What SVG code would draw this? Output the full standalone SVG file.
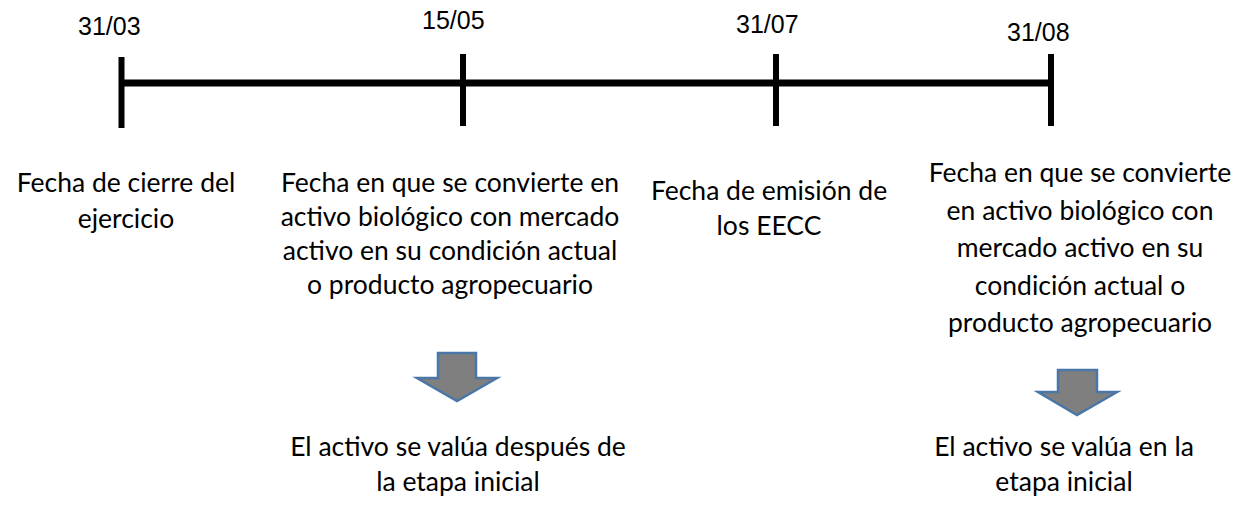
<svg xmlns="http://www.w3.org/2000/svg" width="1249" height="512" viewBox="0 0 1249 512">
<style>
.date{font-family:"Liberation Sans",Arial,sans-serif;font-size:25px;fill:#000}
.lbl{font-family:Lato,"Open Sans",sans-serif;font-size:26.5px;fill:#000;text-anchor:middle}
.tl{stroke:#000;fill:none}
.arr{fill:#7f7f7f;stroke:#4a76a8;stroke-width:2.5;stroke-linejoin:miter}
</style>
<defs>
<clipPath id="clip4"><rect x="900" y="150" width="349" height="190"/></clipPath>
</defs>
<rect width="1249" height="512" fill="#fff"/>
<g id="connectors">
<line class="tl" x1="121" y1="83" x2="1051" y2="83" stroke-width="7"/>
</g>
<g id="tick-3103">
<line class="tl" x1="121.5" y1="57" x2="121.5" y2="128" stroke-width="6"/>
<text class="date" x="78" y="35">31/03</text>
</g>
<g id="tick-1505">
<line class="tl" x1="463" y1="54" x2="463" y2="126" stroke-width="6"/>
<text class="date" x="422" y="29">15/05</text>
</g>
<g id="tick-3107">
<line class="tl" x1="776" y1="54" x2="776" y2="126" stroke-width="6"/>
<text class="date" x="736" y="33">31/07</text>
</g>
<g id="tick-3108">
<line class="tl" x1="1051" y1="54" x2="1051" y2="126" stroke-width="6"/>
<text class="date" x="1007" y="41">31/08</text>
</g>
<g id="label-cierre">
<text class="lbl" x="126" y="192">Fecha de cierre del</text>
<text class="lbl" x="126" y="228">ejercicio</text>
</g>
<g id="label-conversion-1">
<text class="lbl" x="450" y="192">Fecha en que se convierte en</text>
<text class="lbl" x="450" y="226">activo biológico con mercado</text>
<text class="lbl" x="450" y="260">activo en su condición actual</text>
<text class="lbl" x="450" y="294">o producto agropecuario</text>
</g>
<g id="label-emision">
<text class="lbl" x="769" y="200">Fecha de emisión de</text>
<text class="lbl" x="769" y="235">los EECC</text>
</g>
<g id="label-conversion-2" clip-path="url(#clip4)">
<text class="lbl" x="1080" y="182">Fecha en que se convierte</text>
<text class="lbl" x="1080" y="219.5">en activo biológico con</text>
<text class="lbl" x="1080" y="257">mercado activo en su</text>
<text class="lbl" x="1080" y="294.5">condición actual o</text>
<text class="lbl" x="1080" y="332">producto agropecuario</text>
</g>
<g id="arrow-1">
<polygon class="arr" points="438,353 476,353 476,378 497,378 457,401 417,378 438,378"/>
</g>
<g id="arrow-2">
<polygon class="arr" points="1058,370 1097,370 1097,392 1117,392 1077,415 1038,392 1058,392"/>
</g>
<g id="result-1">
<text class="lbl" x="458" y="456">El activo se valúa después de</text>
<text class="lbl" x="458" y="491">la etapa inicial</text>
</g>
<g id="result-2">
<text class="lbl" x="1064" y="456">El activo se valúa en la</text>
<text class="lbl" x="1064" y="491">etapa inicial</text>
</g>
</svg>
